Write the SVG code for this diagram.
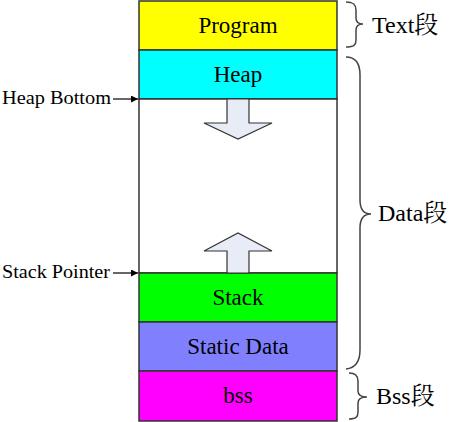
<svg xmlns="http://www.w3.org/2000/svg" width="451" height="422" viewBox="0 0 451 422">
<defs>
<style>
.blk{stroke:#333;stroke-width:1.5}
.t{font-family:'Liberation Serif','Times New Roman','DejaVu Serif','Noto Serif CJK SC','Noto Sans CJK SC',serif;font-size:23px;fill:#000;text-anchor:middle}
.lbl{font-family:'Liberation Serif','Times New Roman','DejaVu Serif',serif;font-size:19px;fill:#000}
.seg{font-family:'Liberation Serif','Times New Roman','DejaVu Serif','Noto Serif CJK SC','Noto Sans CJK SC',serif;font-size:24px;fill:#000}
.br{fill:none;stroke:#444;stroke-width:1.5}
.ar{fill:#e8ecf6;stroke:#333;stroke-width:1.2}
</style>
<marker id="ah" viewBox="0 0 10 10" refX="10" refY="5" markerWidth="9" markerHeight="7" orient="auto" markerUnits="userSpaceOnUse">
<path d="M0,0 L10,5 L0,10 Z" fill="#000"/>
</marker>
</defs>
<rect x="0" y="0" width="451" height="422" fill="#fff"/>
<g id="program"><rect class="blk" x="139" y="1" width="198" height="49" fill="#ffff00"/><text class="t" x="238" y="33">Program</text></g>
<g id="heap"><rect class="blk" x="139" y="50" width="198" height="49" fill="#00ffff"/><text class="t" x="238" y="82">Heap</text></g>
<g id="free"><rect class="blk" x="139" y="99" width="198" height="174" fill="#fff"/></g>
<g id="stack"><rect class="blk" x="139" y="273" width="198" height="49" fill="#00ff00"/><text class="t" x="238" y="305">Stack</text></g>
<g id="static"><rect class="blk" x="139" y="322" width="198" height="49" fill="#8080ff"/><text class="t" x="238" y="354">Static Data</text></g>
<g id="bss"><rect class="blk" x="139" y="371" width="198" height="50" fill="#ff00ff"/><text class="t" x="238" y="403">bss</text></g>
<g id="heap-grow"><path class="ar" d="M227,99 L249,99 L249,123 L272,123 L238,139 L204,123 L227,123 Z"/></g>
<g id="stack-grow"><path class="ar" d="M227,273 L249,273 L249,251 L272,251 L238,233 L204,251 L227,251 Z"/></g>
<g id="connectors">
<line x1="113" y1="99" x2="138" y2="99" stroke="#000" stroke-width="1.2" marker-end="url(#ah)"/>
<line x1="113" y1="273" x2="138" y2="273" stroke="#000" stroke-width="1.2" marker-end="url(#ah)"/>
</g>
<g id="heap-bottom-label"><text class="lbl" x="2" y="104" textLength="109" lengthAdjust="spacingAndGlyphs">Heap Bottom</text></g>
<g id="stack-pointer-label"><text class="lbl" x="2" y="278" textLength="108" lengthAdjust="spacingAndGlyphs">Stack Pointer</text></g>
<g id="text-seg">
<path class="br" d="M346,2 C354,2 356,5 356,10 L356,18 C356,22 358,24 363,24 C358,24 356,26 356,30 L356,40 C356,45 354,47 346,47"/>
<text class="seg" x="372" y="33">Text段</text>
</g>
<g id="data-seg">
<path class="br" d="M346,57 C355,57 360,63 360,75 L360,200 C360,210 364,214 371,214 C364,214 360,218 360,228 L360,350 C360,362 355,368 346,369"/>
<text class="seg" x="378" y="221">Data段</text>
</g>
<g id="bss-seg">
<path class="br" d="M349,373 C356,373 358,376 358,381 L358,391 C358,395 361,397 367,397 C361,397 358,399 358,403 L358,412 C358,417 356,419 349,419"/>
<text class="seg" x="376" y="404">Bss段</text>
</g>
</svg>
